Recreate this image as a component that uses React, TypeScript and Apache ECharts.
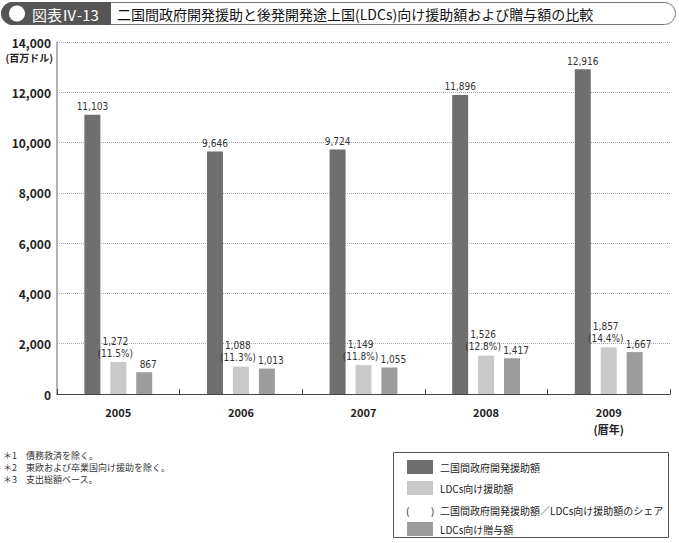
import React, { useEffect, useRef } from "react";
import * as echarts from "echarts";

const years = ["2005", "2006", "2007", "2008", "2009"];
const bilateralODA = [11103, 9646, 9724, 11896, 12916];
const ldcAid = [1272, 1088, 1149, 1526, 1857];
const ldcShare = [11.5, 11.3, 11.8, 12.8, 14.4];
const ldcGrant = [867, 1013, 1055, 1417, 1667];
const yTicks = [0, 2000, 4000, 6000, 8000, 10000, 12000, 14000];

const seriesNames = ["二国間政府開発援助額", "LDCs向け援助額", "LDCs向け贈与額"];
const shareLegend = "二国間政府開発援助額／LDCs向け援助額のシェア";
const notes = ["＊1　債務救済を除く。", "＊2　東欧および卒業国向け援助を除く。", "＊3　支出総額ベース。"];
const titleTag = "図表Ⅳ-13";
const titleText = "二国間政府開発援助と後発開発途上国(LDCs)向け援助額および贈与額の比較";
const unitText = "(百万ドル)";
const yearUnit = "(暦年)";

const FONT = "'Noto Sans CJK JP', 'Noto Sans', sans-serif";
const NUMFONT = "'Liberation Sans Narrow', 'DejaVu Sans Condensed', 'Noto Sans', sans-serif";
const colors = ["#6f6f6f", "#c9c9c9", "#9c9c9c"];

const fmt = (v: number) => v.toLocaleString("en-US");

export default function App() {
  const ref = useRef<HTMLDivElement>(null);
  useEffect(() => {
    if (!ref.current) return;
    const chart = echarts.init(ref.current, undefined, { renderer: "svg" });
    const labelStyle = { color: "#333", fontSize: 10, fontFamily: NUMFONT, distance: 3 };
    const legendItems = [
      { kind: "box", color: colors[0], text: seriesNames[0] },
      { kind: "box", color: colors[1], text: seriesNames[1] },
      { kind: "paren", color: "", text: shareLegend },
      { kind: "box", color: colors[2], text: seriesNames[2] },
    ];
    const legendRows = [467, 488, 510, 529];
    const legendGraphics: any[] = [
      {
        type: "rect",
        shape: { x: 393.5, y: 452.5, width: 275, height: 85 },
        style: { fill: "#fff", stroke: "#555", lineWidth: 1 },
      },
    ];
    legendItems.forEach((it, i) => {
      const cy = legendRows[i];
      if (it.kind === "box") {
        legendGraphics.push({
          type: "rect",
          shape: { x: 407, y: cy - 7, width: 26, height: 14 },
          style: { fill: it.color },
        });
      } else {
        legendGraphics.push({
          type: "text",
          x: 406,
          y: cy,
          style: { text: "(", fontSize: 10, fontFamily: FONT, fill: "#222", verticalAlign: "middle" },
        });
        legendGraphics.push({
          type: "text",
          x: 431,
          y: cy,
          style: { text: ")", fontSize: 10, fontFamily: FONT, fill: "#222", verticalAlign: "middle" },
        });
      }
      legendGraphics.push({
        type: "text",
        x: 440,
        y: cy,
        style: { text: it.text, fontSize: 10, fontFamily: FONT, fill: "#222", verticalAlign: "middle" },
      });
    });

    const option: any = {
      animation: false,
      backgroundColor: "#fff",
      grid: { left: 57, right: 9, top: 42, bottom: 149, containLabel: false },
      xAxis: {
        type: "category",
        data: years,
        axisLine: { lineStyle: { color: "#444", width: 1 } },
        axisTick: { show: true, inside: true, length: 5, lineStyle: { color: "#444" } },
        axisLabel: {
          fontFamily: FONT,
          fontSize: 11,
          fontWeight: "bold",
          color: "#222",
          margin: 9,
          lineHeight: 17,
          formatter: (v: string) => (v === years[years.length - 1] ? `${v}\n${yearUnit}` : v),
        },
      },
      yAxis: {
        type: "value",
        min: yTicks[0],
        max: yTicks[yTicks.length - 1],
        interval: 2000,
        axisLine: { show: true, lineStyle: { color: "#999", width: 1.5 } },
        axisTick: { show: false },
        axisLabel: {
          fontFamily: FONT,
          fontSize: 12,
          fontWeight: "bold",
          color: "#222",
          margin: 6,
          formatter: (v: number) => fmt(v),
        },
        splitLine: { show: true, lineStyle: { color: "#aaa", type: "dotted", width: 1 } },
      },
      series: [
        {
          name: seriesNames[0],
          type: "bar",
          data: bilateralODA,
          barWidth: 16,
          barGap: "62%",
          itemStyle: { color: colors[0] },
          label: { show: true, position: "top", ...labelStyle, formatter: (p: any) => fmt(p.value) },
        },
        {
          name: seriesNames[1],
          type: "bar",
          data: ldcAid,
          barWidth: 16,
          barGap: "62%",
          itemStyle: { color: colors[1] },
          label: {
            show: true,
            position: "top",
            ...labelStyle,
            lineHeight: 12,
            offset: [-3, 0],
            formatter: (p: any) => `${fmt(p.value)}\n(${ldcShare[p.dataIndex].toFixed(1)}%)`,
          },
        },
        {
          name: seriesNames[2],
          type: "bar",
          data: ldcGrant,
          barWidth: 16,
          barGap: "62%",
          itemStyle: { color: colors[2] },
          label: {
            show: true,
            position: "top",
            ...labelStyle,
            offset: [4, 0],
            formatter: (p: any) => fmt(p.value),
          },
        },
      ],
      graphic: [
        {
          type: "rect",
          shape: { x: 1.5, y: 2.5, width: 674, height: 22, r: 11 },
          style: { fill: "#fff", stroke: "#777", lineWidth: 1 },
        },
        {
          type: "rect",
          shape: { x: 1.5, y: 2.5, width: 109, height: 22, r: [11, 0, 0, 11] },
          style: { fill: "#555", stroke: "#555", lineWidth: 1 },
        },
        { type: "circle", shape: { cx: 17, cy: 13.5, r: 8 }, style: { fill: "#fff" } },
        {
          type: "text",
          x: 32,
          y: 14,
          style: { text: titleTag, fontSize: 15, fontFamily: FONT, fill: "#fff", verticalAlign: "middle" },
        },
        {
          type: "text",
          x: 117,
          y: 14,
          style: { text: titleText, fontSize: 14, fontFamily: FONT, fill: "#111", verticalAlign: "middle" },
        },
        {
          type: "text",
          x: 53,
          y: 57,
          style: {
            text: unitText,
            fontSize: 10,
            fontWeight: "bold",
            fontFamily: FONT,
            fill: "#222",
            align: "right",
            verticalAlign: "middle",
          },
        },
        ...notes.map((n, i) => ({
          type: "text",
          x: 3,
          y: 455 + i * 12,
          style: { text: n, fontSize: 9, fontFamily: FONT, fill: "#333", verticalAlign: "middle" },
        })),
        ...legendGraphics,
      ],
    };
    chart.setOption(option);
    return () => chart.dispose();
  }, []);
  return (
    <div
      ref={ref}
      style={{ position: "absolute", left: 0, top: 0, width: 679, height: 543, background: "#fff" }}
    />
  );
}
